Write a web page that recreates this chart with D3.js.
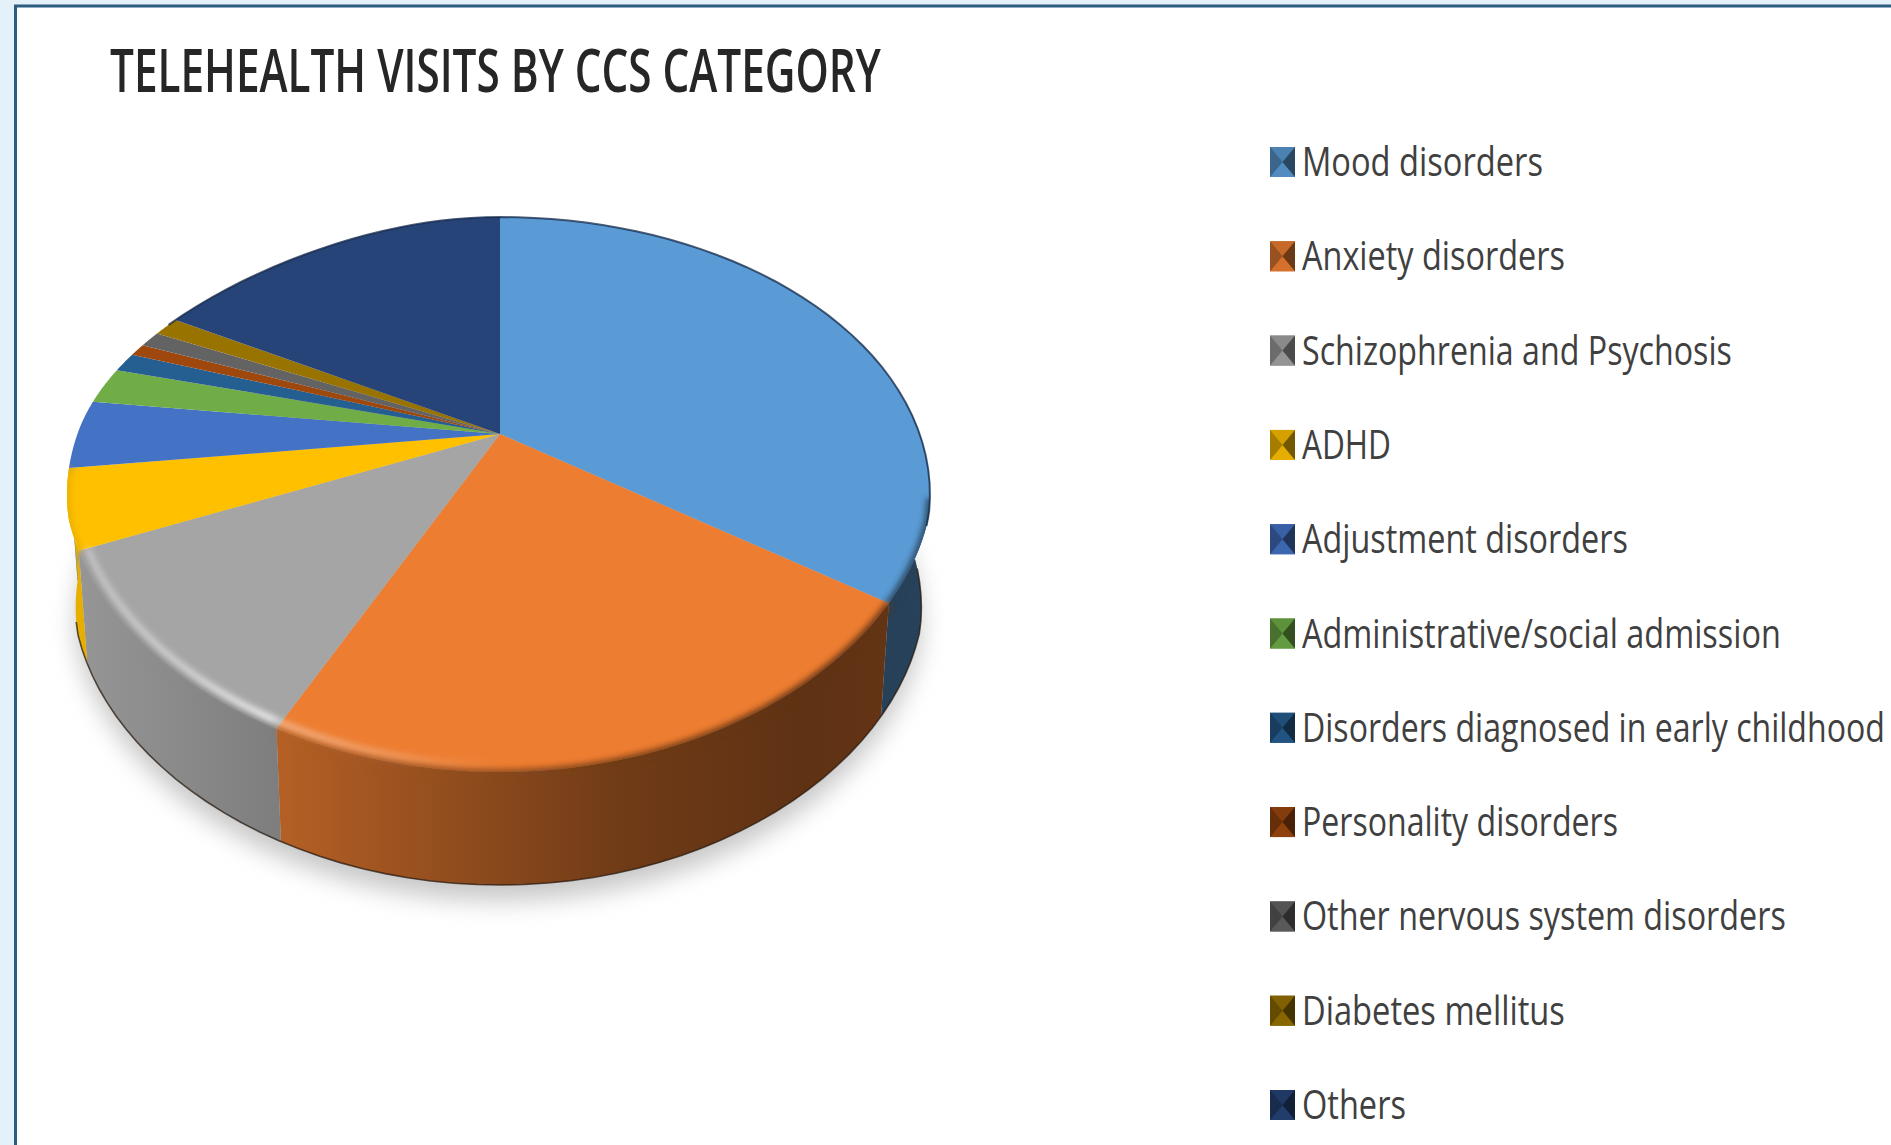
<!DOCTYPE html>
<html>
<head>
<meta charset="utf-8">
<script src="https://cdn.jsdelivr.net/npm/d3@7"></script>
<style>
html,body{margin:0;padding:0;background:#e4f1f8;overflow:hidden}
svg{display:block}
text{font-family:"Open Sans","Noto Sans",sans-serif}
</style>
</head>
<body>
<svg id="chart" width="1891" height="1145"></svg>
<script>
const categories = ["Mood disorders","Anxiety disorders","Schizophrenia and Psychosis","ADHD","Adjustment disorders","Administrative/social admission","Disorders diagnosed in early childhood","Personality disorders","Other nervous system disorders","Diabetes mellitus","Others"];
const shares = [34.5,22.8,11.1,4.6,4.0,2.1,1.1,0.7,0.9,1.1,17.1];
const colors = ["#5b9bd5","#ed7d31","#a5a5a5","#ffc000","#4472c4","#70ad47","#255e91","#9e480e","#636363","#997300","#264478"];
const legendWidths = [241,263,430,89,326,479,583,316,484,263,104];
const chartTitle = "TELEHEALTH VISITS BY CCS CATEGORY";

const W = 1891, H = 1145;
const svg = d3.select("#chart");
const defs = svg.append("defs");
defs.append("filter").attr("id","soft").attr("x","-20%").attr("y","-20%").attr("width","140%").attr("height","140%")
  .append("feGaussianBlur").attr("stdDeviation",12);
defs.append("filter").attr("id","rim").attr("filterUnits","userSpaceOnUse").attr("x",0).attr("y",0).attr("width",W).attr("height",H)
  .append("feGaussianBlur").attr("stdDeviation",3);
defs.append("filter").attr("id","edge").attr("filterUnits","userSpaceOnUse").attr("x",0).attr("y",0).attr("width",W).attr("height",H)
  .append("feGaussianBlur").attr("stdDeviation",0.7);

// Squeezes a text horizontally so that it spans the wanted width
const fitWidth = (node,x,y,width) => {
  const natural = node.getComputedTextLength();
  d3.select(node).attr("transform",`translate(${x},${y}) scale(${width/natural},1)`);
};

// Panel with its dark frame
svg.append("rect").attr("x",15.5).attr("y",6).attr("width",W-15.5+4).attr("height",H)
  .attr("fill","#fff").attr("stroke","#2a5d80").attr("stroke-width",3);

// Title
svg.append("text").attr("font-size",60).attr("font-weight",600)
  .attr("fill","#262626").text(chartTitle)
  .each(function(){ fitWidth(this,110,92,771); });

// Perspective mapping of the tilted disc: angle is clockwise from twelve o'clock
const apex = {x:500,y:434}, topSpan = 217, nearSpan = 338;
const k = (nearSpan-topSpan)/(nearSpan+topSpan);
const B = topSpan*(1+k);
const X = 433*Math.sqrt(1-k*k);
const project = a => {
  const u = Math.sin(a), v = -Math.cos(a), d = 1-k*v;
  const near = 1-0.065*Math.max(0,v-0.3);
  const side = u>=0 ? 0.993 : (v<0 ? 1-0.16*v*v : 1);
  return [apex.x+near*side*X*u/d, apex.y+B*v/d];
};
const depth = 113, baseScale = 0.98;
const lower = a => {
  const [x,y] = project(a);
  return [apex.x+(x-apex.x)*baseScale, y+depth];
};
const samples = (a0,a1,fn) => d3.range(0,61).map(i => fn(a0+(a1-a0)*i/60));
const line = d3.line().curve(d3.curveLinear);

const slices = d3.pie().sort(null).value(d => d)(shares);

// Outline of the whole solid, used to keep soft strokes on the disc
const solid = defs.append("clipPath").attr("id","solid");
solid.append("path").attr("d",line(samples(0,2*Math.PI,project))+"Z");
solid.append("path").attr("d",line(samples(0,2*Math.PI,lower))+"Z");
solid.append("path").attr("d",line(samples(Math.PI/2-0.12,3*Math.PI/2-0.12,project).concat(samples(3*Math.PI/2-0.12,Math.PI/2-0.12,lower)))+"Z");

// Soft shadow beneath the disc
svg.append("path")
  .attr("d",line(samples(0,2*Math.PI,a=>{const p=lower(a);return [p[0],p[1]+16];}))+"Z")
  .attr("fill","#9a9a9a").attr("opacity",0.55).attr("filter","url(#soft)");

// Side wall shading, per colour
const shade = (id,stops) => {
  const g = defs.append("linearGradient").attr("id",id).attr("gradientUnits","userSpaceOnUse")
    .attr("x1",70).attr("x2",930).attr("y1",0).attr("y2",0);
  stops.forEach(([o,c]) => g.append("stop").attr("offset",o).attr("stop-color",c));
};
slices.forEach((s,i) => {
  const c = d3.color(colors[i]);
  shade("wall"+i,[[0,c.darker(0.25)],[0.24,c.darker(0.75)],[0.64,c.darker(2.1)],[0.85,c.darker(2.55)],[1,c.darker(2.4)]]);
});
const nearStart = Math.PI/2-0.12, nearEnd = 3*Math.PI/2-0.12;
const wall = svg.append("g");
slices.forEach((s,i) => {
  const a0 = Math.max(s.startAngle,nearStart), a1 = Math.min(s.endAngle,nearEnd);
  if (a1<=a0) return;
  const pts = samples(a0,a1,project).concat(samples(a1,a0,lower));
  wall.append("path").attr("d",line(pts)+"Z").attr("fill",`url(#wall${i})`);
});
// Thin dark line under the wall
wall.append("path").attr("d",line(samples(nearStart+0.2,nearEnd-0.15,lower)))
  .attr("fill","none").attr("stroke","#2b1c12").attr("stroke-width",1.6).attr("opacity",0.75).attr("filter","url(#edge)");

// Top face
svg.append("g").selectAll("path").data(slices).join("path")
  .attr("d",s => line([[apex.x,apex.y]].concat(samples(s.startAngle,s.endAngle,project)))+"Z")
  .attr("fill",(s,i) => colors[i]);

// Soft transition between the near edge of the top face and the wall
const rimBand = svg.append("g").attr("clip-path","url(#solid)");
slices.forEach((s,i) => {
  const a0 = Math.max(s.startAngle,1.8), a1 = Math.min(s.endAngle,nearEnd);
  if (a1<=a0) return;
  rimBand.append("path").attr("d",line(samples(a0,a1,a=>{
      const [x,y]=project(a); return [x,y+1];
    }))).attr("fill","none").attr("stroke",`url(#wall${i})`).attr("stroke-width",7)
    .attr("filter","url(#rim)");
});

// Dark rim along the far edge, bright bevel along the near edge
svg.append("path").attr("d",line(samples(-1.1,1.9,project))).attr("fill","none")
  .attr("stroke","#14294a").attr("stroke-width",2).attr("opacity",0.75).attr("filter","url(#edge)");
const glint = defs.append("linearGradient").attr("id","glint").attr("gradientUnits","userSpaceOnUse")
  .attr("x1",70).attr("x2",500).attr("y1",0).attr("y2",0);
[[0,0.35],[0.25,0.55],[0.47,0.9],[0.49,0.45],[0.75,0.25],[1,0]].forEach(([o,a]) =>
  glint.append("stop").attr("offset",o).attr("stop-color","#fff").attr("stop-opacity",a));
svg.append("path").attr("d",line(samples(2.95,4.3,a=>{
    const [x,y]=project(a); return [apex.x+(x-apex.x)*0.98,apex.y+(y-apex.y)*0.98];
  }))).attr("fill","none").attr("stroke","url(#glint)").attr("stroke-width",6).attr("filter","url(#rim)");

// Legend
const rowY = d3.scalePoint().domain(categories).range([162,1105]);
const legend = svg.append("g").selectAll("g").data(categories).join("g")
  .attr("transform",d => `translate(1270,${rowY(d)})`);
const sw = 25, sh = 30;
legend.append("rect").attr("x",0).attr("y",-sh/2).attr("width",sw).attr("height",sh)
  .attr("fill",(d,i) => d3.color(colors[i]).darker(0.6));
legend.append("polygon").attr("points",`0,${-sh/2} ${sw},${-sh/2} ${sw/2},0`)
  .attr("fill",(d,i) => d3.color(colors[i]).darker(0.5));
legend.append("polygon").attr("points",`0,${sh/2} ${sw},${sh/2} ${sw/2},0`)
  .attr("fill",(d,i) => d3.color(colors[i]).darker(0.3));
legend.append("polygon").attr("points",`0,${-sh/2} 0,${sh/2} ${sw/2},0`)
  .attr("fill",(d,i) => d3.color(colors[i]).darker(1.2));
legend.append("polygon").attr("points",`${sw},${-sh/2} ${sw},${sh/2} ${sw/2},0`)
  .attr("fill",(d,i) => d3.color(colors[i]).darker(2.2));
legend.append("text").attr("font-size",40).attr("fill","#404040")
  .text(d => d)
  .each(function(d,i){ fitWidth(this,32,14,legendWidths[i]); });
</script>
</body>
</html>
